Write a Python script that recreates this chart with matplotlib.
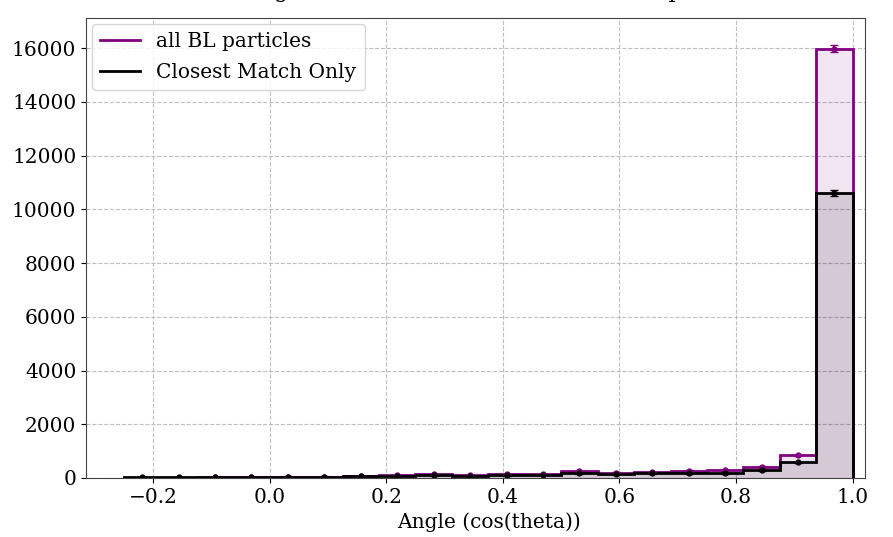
"""Angle histogram: all BL particles vs closest match only."""

import matplotlib

matplotlib.use("Agg")
import matplotlib.pyplot as plt
import numpy as np
from matplotlib.lines import Line2D

# bin edges of cos(theta)
bin_edges = np.linspace(-0.25, 1.0, 21)

# counts per bin
all_bl = [0, 0, 40, 40, 40, 45, 60, 110, 150, 100, 140, 150,
          260, 200, 210, 270, 280, 420, 840, 15970]
closest = [20, 30, 30, 30, 50, 50, 60, 70, 100, 60, 100, 120,
           170, 150, 170, 170, 170, 280, 580, 10600]

labels = ["all BL particles", "Closest Match Only"]
title = "Angle between BL and closest match particles"

plt.rcParams["font.family"] = ["DejaVu Serif"]

fig = plt.figure(figsize=(8.93, 5.37), dpi=100)
ax = fig.add_axes([0.0963, 0.1099, 0.8723, 0.8566])

centers = 0.5 * (bin_edges[:-1] + bin_edges[1:])
all_bl = np.array(all_bl, dtype=float)
closest = np.array(closest, dtype=float)

# 塗りつぶし
ax.stairs(all_bl, bin_edges, fill=True, color="purple", alpha=0.1, lw=0)
ax.stairs(closest, bin_edges, fill=True, color="black", alpha=0.12, lw=0)

# 輪郭
ax.stairs(all_bl, bin_edges, color="purple", lw=2)
ax.stairs(closest, bin_edges, color="black", lw=2)

# 誤差棒
m = all_bl > 0
ax.errorbar(centers[m], all_bl[m], yerr=np.sqrt(all_bl[m]), fmt="o",
            ms=3.5, color="purple", capsize=3, elinewidth=1.5)
ax.errorbar(centers, closest, yerr=np.sqrt(closest), fmt="o",
            ms=3.5, color="black", capsize=3, elinewidth=1.5)

ax.set_xlim(-0.315, 1.021)
ax.set_ylim(0, 17120)
ax.set_xticks([-0.2, 0.0, 0.2, 0.4, 0.6, 0.8, 1.0])
ax.set_yticks(np.arange(0, 16001, 2000))
ax.tick_params(labelsize=14.5)
ax.grid(True, linestyle="--", color="#b0b0b0", alpha=0.8)
ax.set_axisbelow(True)
for s in ax.spines.values():
    s.set_color("#444444")

ax.set_xlabel("Angle (cos(theta))", fontsize=14.5, labelpad=4)
ax.xaxis.label.set_x(0.517)
ax.set_ylabel("Number", fontsize=16, labelpad=0)
ax.yaxis.set_label_coords(-0.117, 0.48)

handles = [Line2D([], [], color="purple", lw=2),
           Line2D([], [], color="black", lw=2)]
ax.legend(handles, labels, loc="upper left", fontsize=14.5,
          borderaxespad=0.3, labelspacing=0.6)

# タイトル (上が切れている)
fig.text(0.566, 1.0 + 3 / 537, title, ha="center", va="baseline", fontsize=16)

fig.savefig("out.png", dpi=100)
plt.close(fig)
print("Saved: out.png")
